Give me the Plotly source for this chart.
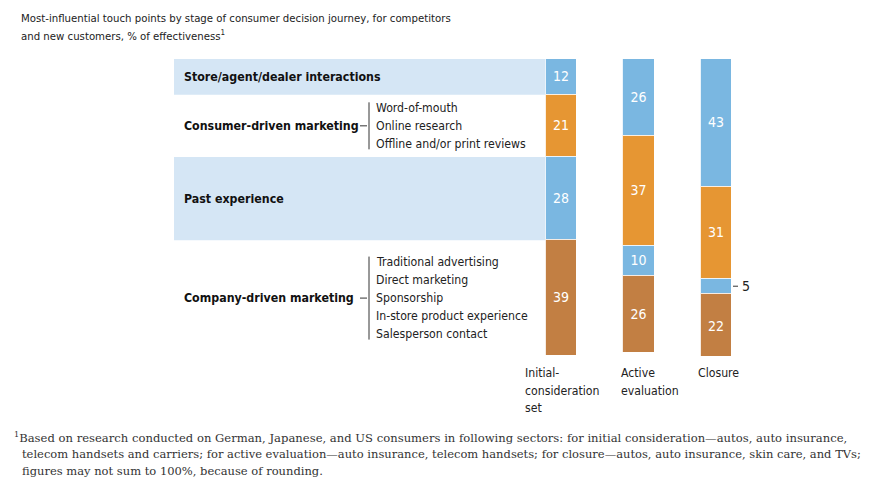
import plotly.graph_objects as go

stages = [["Initial-", "consideration", "set"], ["Active", "evaluation"], ["Closure"]]
groups = ["Store/agent/dealer interactions", "Consumer-driven marketing",
          "Past experience", "Company-driven marketing"]
store = [12, 26, 43]
consumer = [21, 37, 31]
past = [28, 10, 5]
company = [39, 26, 22]
consumer_items = ["Word-of-mouth", "Online research", "Offline and/or print reviews"]
company_items = ["Traditional advertising", "Direct marketing", "Sponsorship",
                 "In-store product experience", "Salesperson contact"]

title = ["Most-influential touch points by stage of consumer decision journey, for competitors",
         "and new customers, % of effectiveness<sup>1</sup>"]
note1 = ("<sup>1</sup>Based on research conducted on German, Japanese, and US consumers in following sectors: "
         "for initial consideration\u2014autos, auto insurance,")
note_rest = ["telecom handsets and carriers; for active evaluation\u2014auto insurance, telecom handsets; "
             "for closure\u2014autos, auto insurance, skin care, and TVs;",
             "figures may not sum to 100%, because of rounding."]

NARROW = "DejaVu Sans Condensed, Liberation Sans, sans-serif"
SERIF = "DejaVu Serif, serif"
BLUE = "#7ab7e1"
BAND = "#d5e6f5"
ORANGE = "#e69633"
BROWN = "#c27f43"

# plot area in pixels: x 174..794, y 59..356
L, R, T, B = 174, 76, 59, 139
W, H = 870 - L - R, 495 - T - B


def px(p):
    return (p - L) / W


def py(p):
    return (495 - B - p) / H


xs = list(range(len(stages)))
series = [store, consumer, past, company]
colors = [BLUE, ORANGE, BLUE, BROWN]

fig = go.Figure()
for name, vals, col in zip(groups, series, colors):
    fig.add_bar(
        x=xs, y=vals, name=name, width=0.41,
        marker=dict(color=col, line=dict(color="rgba(255,255,255,0.85)", width=1.2)),
        text=[str(v) for v in vals],
        textposition=["inside" if v >= 8 else "none" for v in vals],
        insidetextanchor="middle", textangle=0,
        constraintext="none",
        textfont=dict(family=NARROW, size=14, color="white"),
        hoverinfo="skip",
    )

# row centres / edges taken from the first column
edges = [0]
for s in series:
    edges.append(edges[-1] + s[0])
centres = [(a + b) / 2 for a, b in zip(edges[:-1], edges[1:])]

shapes = []
annotations = []


def text_lines(lines, x, y, step, font, yref="paper", centred=False):
    # one annotation per line so the line spacing can follow the reference
    n = len(lines)
    for i, t in enumerate(lines):
        shift = ((n - 1) / 2 - i) * step if centred else -i * step
        annotations.append(dict(text=t, xref="paper", yref=yref, x=x, y=y, yshift=shift,
                                xanchor="left", yanchor="middle", showarrow=False, font=font))


for i in (0, 2):
    shapes.append(dict(type="rect", xref="x", yref="y", x0=-5, x1=0,
                       y0=edges[i], y1=edges[i + 1], fillcolor=BAND,
                       line=dict(width=0), layer="below"))

for g, c in zip(groups, centres):
    annotations.append(dict(text="<b>" + g + "</b>", xref="paper", yref="y",
                            x=px(182), y=c, xanchor="left", yanchor="middle",
                            showarrow=False, font=dict(family=NARROW, size=12.3, color="#111")))

item_font = dict(family=NARROW, size=12.2, color="#222")
for items, c, dash in ((consumer_items, centres[1], 360), (company_items, centres[3], 360)):
    text_lines(items, px(374), c, 18, item_font, yref="y", centred=True)
    h = len(items) * 18 - 7
    shapes.append(dict(type="line", xref="paper", yref="y", ysizemode="pixel", yanchor=c,
                       x0=px(369), x1=px(369), y0=-h / 2, y1=h / 2,
                       line=dict(color="#333", width=1)))
    shapes.append(dict(type="line", xref="paper", yref="y", x0=px(dash), x1=px(367),
                       y0=c, y1=c, line=dict(color="#333", width=1)))

# small closure segment labelled outside
small_y = store[2] + consumer[2] + past[2] / 2
shapes.append(dict(type="line", xref="paper", yref="y", x0=px(733), x1=px(738),
                   y0=small_y, y1=small_y, line=dict(color="#333", width=1)))
annotations.append(dict(text=str(past[2]), xref="paper", yref="y", x=px(740), y=small_y,
                        xanchor="left", yanchor="middle", showarrow=False,
                        font=dict(family=NARROW, size=14, color="#222")))

for s, lx in zip(stages, (523, 619, 696)):
    text_lines(s, px(lx), py(373), 17.5, dict(family=NARROW, size=12.2, color="#222"))

text_lines(title, px(19), py(18), 17.5, dict(family=NARROW, size=11.3, color="#222"))
text_lines([note1], px(12), py(437), 17, dict(family=SERIF, size=11.6, color="#333"))
text_lines(note_rest, px(20), py(454), 17, dict(family=SERIF, size=11.5, color="#333"))

fig.update_layout(
    width=870, height=495,
    margin=dict(l=L, r=R, t=T, b=B),
    barmode="stack", bargap=0,
    showlegend=False,
    plot_bgcolor="white", paper_bgcolor="white",
    xaxis=dict(range=[-5, 3], visible=False, fixedrange=True),
    yaxis=dict(range=[100, 0], visible=False, fixedrange=True),
    shapes=shapes, annotations=annotations,
)

fig.write_html("out.html", config={"displayModeBar": False},
               post_script="document.body.style.margin='0';")
